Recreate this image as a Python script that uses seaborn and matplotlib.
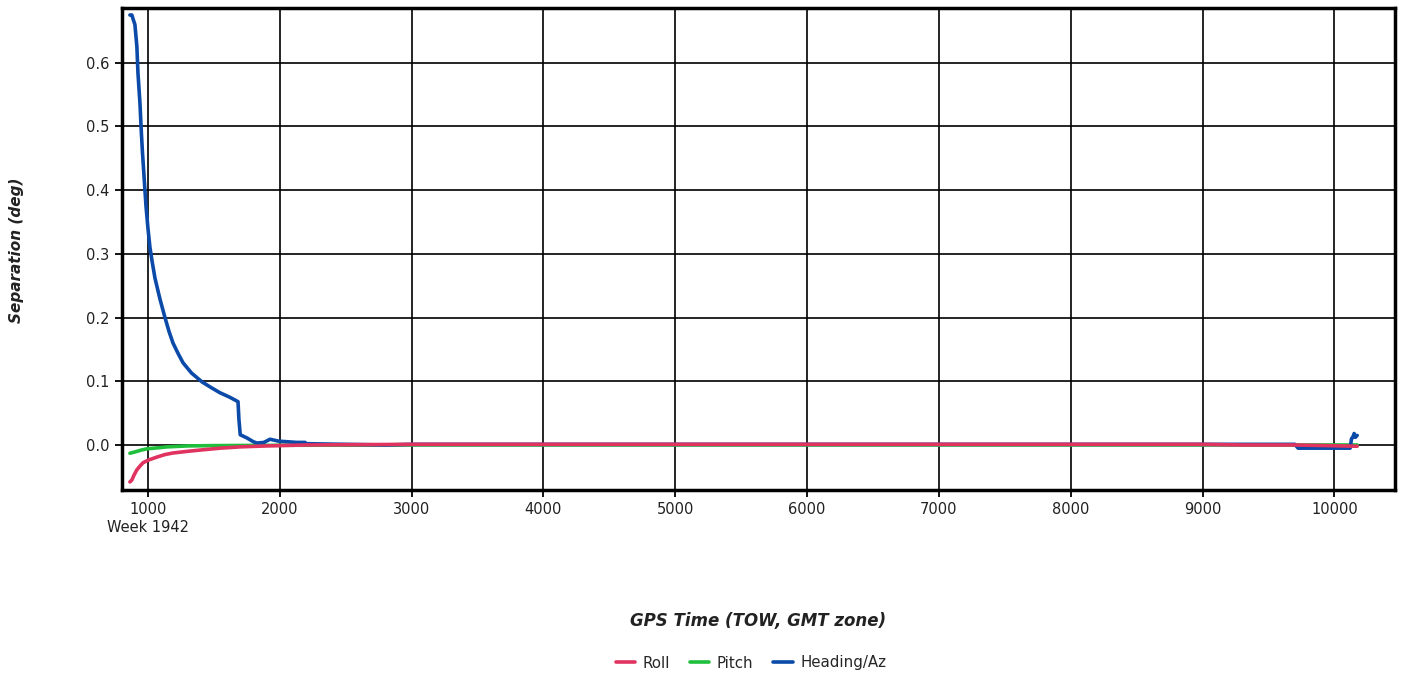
import matplotlib
matplotlib.use("Agg")
import matplotlib.pyplot as plt
import seaborn as sns
import pandas as pd
from matplotlib.lines import Line2D

# ---- data ----
heading_t = [863, 878, 885, 901, 916, 924, 939, 950, 958, 977, 985, 1000, 1015, 1030, 1053,
             1091, 1129, 1160, 1190, 1230, 1266, 1330, 1410, 1480, 1546, 1620, 1683, 1690,
             1700, 1751, 1800, 1827, 1880, 1926, 1990, 2060, 2130, 2191, 2200, 2800, 3000,
             4000, 5000, 6000, 7000, 8000, 9000, 9700, 9725, 10120, 10130, 10140, 10150,
             10160, 10173]
heading_v = [0.675, 0.675, 0.67, 0.66, 0.625, 0.584, 0.537, 0.49, 0.46, 0.40, 0.375, 0.34,
             0.31, 0.29, 0.262, 0.229, 0.200, 0.178, 0.160, 0.143, 0.129, 0.113, 0.099,
             0.090, 0.082, 0.075, 0.068, 0.040, 0.016, 0.011, 0.005, 0.003, 0.004, 0.009,
             0.006, 0.005, 0.004, 0.004, 0.002, 0.0, 0.001, 0.001, 0.001, 0.001, 0.001,
             0.001, 0.001, 0.001, -0.005, -0.005, 0.01, 0.012, 0.018, 0.012, 0.015]

roll_t = [863, 878, 895, 916, 940, 962, 1000, 1068, 1130, 1190, 1300, 1395, 1550, 1698, 1900,
          2200, 3000, 4000, 5000, 6000, 7000, 8000, 9000, 9300, 9700, 10173]
roll_v = [-0.058, -0.055, -0.047, -0.039, -0.033, -0.028, -0.024, -0.019, -0.015, -0.0126,
          -0.010, -0.008, -0.005, -0.003, -0.0015, 0.0, 0.001, 0.001, 0.001, 0.001, 0.001,
          0.001, 0.001, 0.0, 0.0, -0.002]

pitch_t = [863, 900, 950, 992, 1100, 1144, 1300, 1500, 2000, 3000, 5000, 7000, 9000, 10173]
pitch_v = [-0.013, -0.011, -0.008, -0.006, -0.004, -0.003, -0.0015, -0.001, -0.0005, 0.0,
           0.0, 0.0, 0.0, 0.0]

series_names = ["Roll", "Pitch", "Heading/Az"]
series_colors = {"Roll": "#e0335f", "Pitch": "#1fbf3c", "Heading/Az": "#0b4aa8"}
x_ticks = [1000, 2000, 3000, 4000, 5000, 6000, 7000, 8000, 9000, 10000]
x_tick_labels = ["1000\nWeek 1942"] + [str(v) for v in x_ticks[1:]]
y_ticks = [0.0, 0.1, 0.2, 0.3, 0.4, 0.5, 0.6]

sns.set_theme(style="white")
plt.rcParams["font.family"] = ["DejaVu Sans"]

fig = plt.figure(figsize=(14.03, 6.75), dpi=100)
ax = fig.add_axes([122 / 1403, 1 - 490 / 675, (1395 - 122) / 1403, (490 - 8) / 675])

df_p = pd.DataFrame({"t": pitch_t, "v": pitch_v})
df_h = pd.DataFrame({"t": heading_t, "v": heading_v})
df_r = pd.DataFrame({"t": roll_t, "v": roll_v})
sns.lineplot(data=df_p, x="t", y="v", ax=ax, color=series_colors["Pitch"], lw=2.6, zorder=3)
sns.lineplot(data=df_h, x="t", y="v", ax=ax, color=series_colors["Heading/Az"], lw=2.6, zorder=4)
sns.lineplot(data=df_r, x="t", y="v", ax=ax, color=series_colors["Roll"], lw=2.6, zorder=5)

ax.set_xlim(803, 10460)
ax.set_ylim(-0.0707, 0.686)
ax.set_xticks(x_ticks)
ax.set_xticklabels(x_tick_labels, fontsize=10.5, color="#222222", linespacing=1.25)
ax.set_yticks(y_ticks)
ax.set_yticklabels([f"{v:.1f}" for v in y_ticks], fontsize=10.5, color="#222222")
ax.grid(True, color="black", lw=1.2)
ax.set_axisbelow(True)
for s in ax.spines.values():
    s.set_color("black")
    s.set_linewidth(2.5)
ax.tick_params(axis="both", direction="out", length=5, width=1.3, color="black",
               bottom=True, left=True, pad=4)

ax.set_xlabel("")
ax.set_ylabel("")
fig.text(17 / 1403, 1 - 250 / 675, "Separation (deg)", rotation=90, ha="center", va="center",
         fontsize=11, fontweight="bold", fontstyle="italic", color="#222222")
fig.text(758 / 1403, 1 - 621 / 675, "GPS Time (TOW, GMT zone)", ha="center", va="center",
         fontsize=12, fontweight="bold", fontstyle="italic", color="#222222")

handles = [Line2D([], [], color=series_colors[n], lw=2.6) for n in series_names]
fig.legend(handles, series_names, loc="center", bbox_to_anchor=(751 / 1403, 1 - 663 / 675),
           ncol=3, frameon=False, fontsize=10.8, handlelength=1.3, handletextpad=0.5,
           columnspacing=1.3)

fig.savefig("out.png", dpi=100)
